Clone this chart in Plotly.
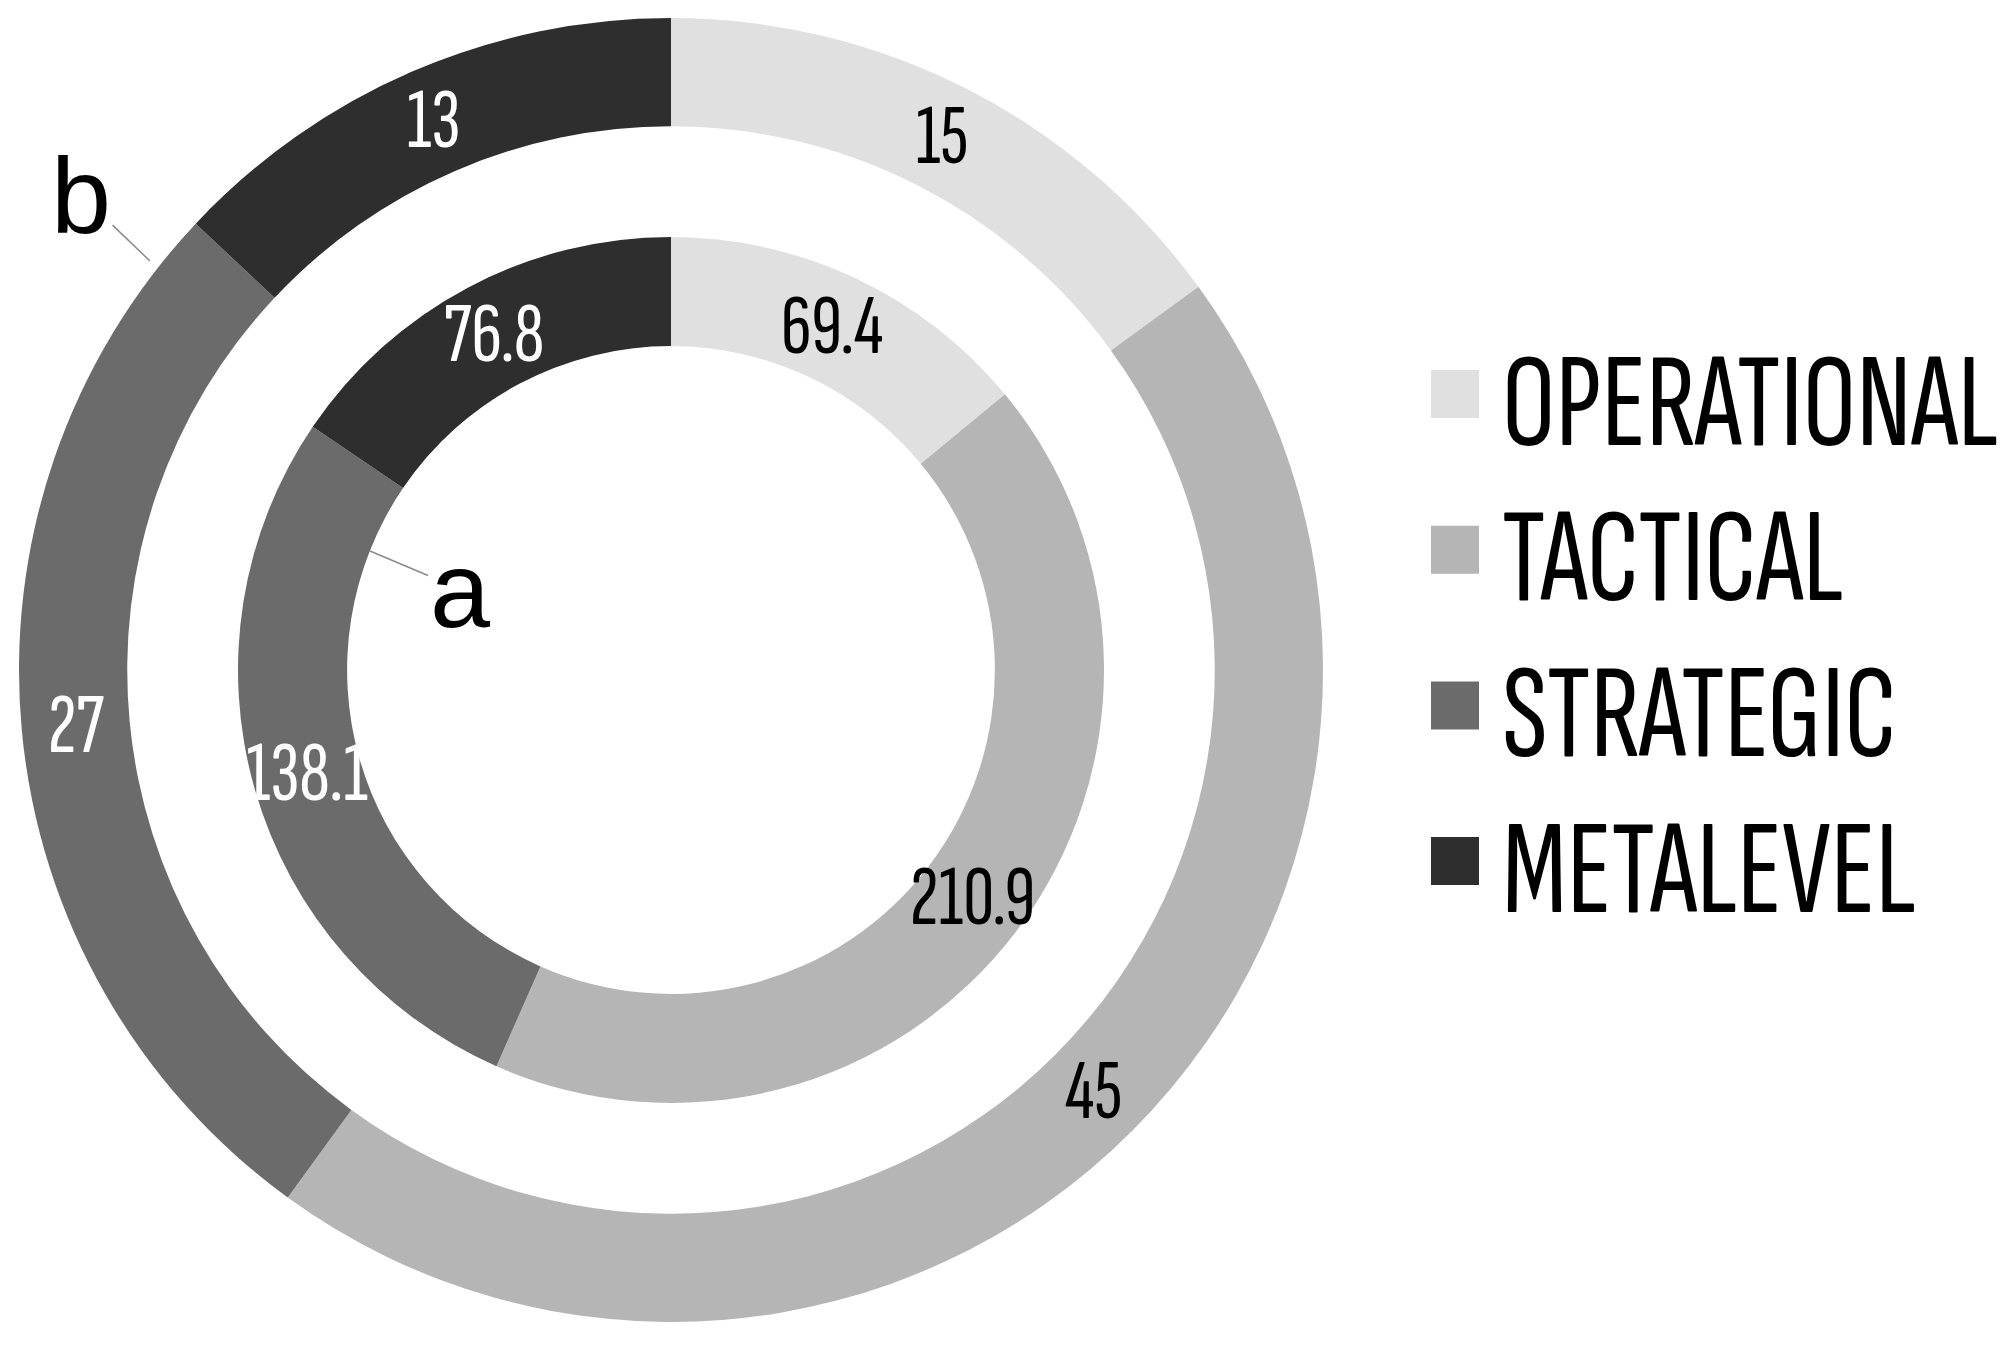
import math
import plotly.graph_objects as go

# levels shared by both rings
levels = ["OPERATIONAL", "TACTICAL", "STRATEGIC", "METALEVEL"]
inner_values = [69.4, 210.9, 138.1, 76.8]   # ring "a"
outer_values = [15, 45, 27, 13]             # ring "b"
level_colors = ["#e0e0e0", "#b5b5b5", "#6b6b6b", "#2e2e2e"]
label_colors = ["black", "black", "white", "white"]

# the page body has an 8px margin, so the figure is a bit smaller than the window
OFF = 8
W, H = 2005 - OFF, 1358 - OFF
CX, CY = 671, 670          # page pixel centre of the rings
COND = "Sofia Sans Extra Condensed, Liberation Sans Narrow, sans-serif"
PLAIN = "Liberation Sans, Arial, sans-serif"


def px(x, y):
    # page pixel (top-left origin) -> paper coords
    return (x - OFF) / W, 1 - (y - OFF) / H


def pie_domain(radius):
    x0, y1 = px(CX - radius, CY - radius)
    x1, y0 = px(CX + radius, CY + radius)
    return dict(x=[x0, x1], y=[y0, y1])


def slice_labels(values, r_out, hole, fmt):
    # value labels at the middle of each slice, kept horizontal
    total = sum(values)
    r_mid = r_out * (1 + hole) / 2
    out = []
    acc = 0
    for v, col in zip(values, label_colors):
        ang = 2 * math.pi * (acc + v / 2) / total
        acc += v
        x, y = px(CX + r_mid * math.sin(ang), CY - r_mid * math.cos(ang))
        out.append(dict(text=fmt.format(v), x=x, y=y, xref='paper', yref='paper',
                        xanchor='center', yanchor='middle', showarrow=False,
                        font=dict(family=COND, size=86, color=col)))
    return out


rings = [
    dict(values=outer_values, radius=652, hole=0.834, fmt="{:g}"),
    dict(values=inner_values, radius=433, hole=0.748, fmt="{:.1f}"),
]

fig = go.Figure()
annotations = []
for ring in rings:
    fig.add_trace(go.Pie(
        labels=levels,
        values=ring['values'],
        hole=ring['hole'],
        domain=pie_domain(ring['radius']),
        sort=False,
        direction='clockwise',
        rotation=0,
        marker=dict(colors=level_colors, line=dict(width=0)),
        textinfo='none',
        hoverinfo='label+value',
        showlegend=False
    ))
    annotations += slice_labels(ring['values'], ring['radius'], ring['hole'], ring['fmt'])

# hand-made legend with big squares
shapes = []
for i, (name, col) in enumerate(zip(levels, level_colors)):
    yc = 394 + i * 155.7
    x0, y1 = px(1431, yc - 24)
    x1, y0 = px(1479, yc + 24)
    shapes.append(dict(type='rect', xref='paper', yref='paper',
                       x0=x0, x1=x1, y0=y0, y1=y1,
                       fillcolor=col, line=dict(width=0)))
    tx, ty = px(1500, yc + 10)
    annotations.append(dict(text=name, xref='paper', yref='paper', x=tx, y=ty,
                            xanchor='left', yanchor='middle', showarrow=False,
                            font=dict(family=COND, size=134, color='black')))

# ring callouts
ax_, ay_ = px(370, 551)
annotations.append(dict(text='a', xref='paper', yref='paper', x=ax_, y=ay_, ax=90, ay=38,
                        showarrow=True, arrowhead=0, arrowwidth=1.5, arrowcolor='#8a8a8a',
                        font=dict(family=PLAIN, size=108, color='black')))
bx_, by_ = px(150, 261)
annotations.append(dict(text='b', xref='paper', yref='paper', x=bx_, y=by_, ax=-69, ay=-66,
                        showarrow=True, arrowhead=0, arrowwidth=1.5, arrowcolor='#8a8a8a',
                        font=dict(family=PLAIN, size=108, color='black')))

fig.update_layout(
    width=W,
    height=H,
    margin=dict(l=0, r=0, t=0, b=0),
    paper_bgcolor='white',
    plot_bgcolor='white',
    shapes=shapes,
    annotations=annotations
)

fig.write_html("out.html")
